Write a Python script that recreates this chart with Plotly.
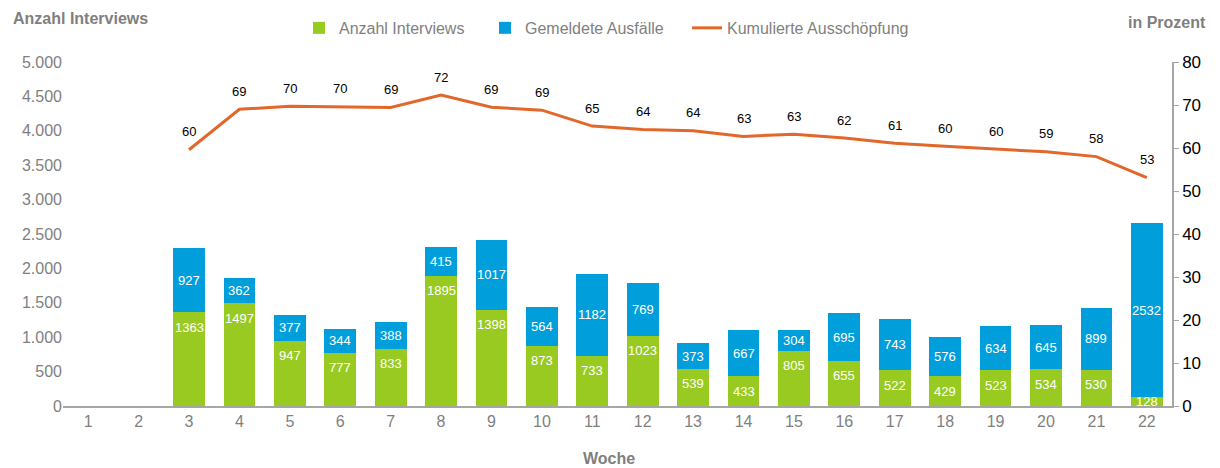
import plotly.graph_objects as go

weeks = list(range(1, 23))
interviews = [None, None, 1363, 1497, 947, 777, 833, 1895, 1398, 873, 733, 1023, 539, 433, 805, 655, 522, 429, 523, 534, 530, 128]
ausfaelle = [None, None, 927, 362, 377, 344, 388, 415, 1017, 564, 1182, 769, 373, 667, 304, 695, 743, 576, 634, 645, 899, 2532]
ausschoepfung = [None, None, 59.6, 69.0, 69.7, 69.6, 69.4, 72.3, 69.5, 68.8, 65.1, 64.3, 64.0, 62.7, 63.2, 62.3, 61.1, 60.4, 59.7, 59.1, 58.0, 53.1]
ausschoepfung_labels = ["", "", "60", "69", "70", "70", "69", "72", "69", "69", "65", "64", "64", "63", "63", "62", "61", "60", "60", "59", "58", "53"]
left_ticks = [0, 500, 1000, 1500, 2000, 2500, 3000, 3500, 4000, 4500, 5000]
left_ticktext = ["0", "500", "1.000", "1.500", "2.000", "2.500", "3.000", "3.500", "4.000", "4.500", "5.000"]

GREEN = "#99CA22"
BLUE = "#009FDC"
ORANGE = "#E2672B"
GREY = "#7F7F7F"
FONT = "Liberation Sans, Arial, sans-serif"

fig = go.Figure()
fig.add_trace(go.Bar(
    x=weeks, y=interviews, name="Anzahl Interviews", marker=dict(color=GREEN, line=dict(width=0)),
    width=0.63, legend="legend",
))
fig.add_trace(go.Bar(
    x=weeks, y=ausfaelle, name="Gemeldete Ausfälle", marker=dict(color=BLUE, line=dict(width=0)),
    width=0.63, legend="legend2",
))
fig.add_trace(go.Scatter(
    x=weeks, y=ausschoepfung, name="Kumulierte Ausschöpfung", mode="lines", yaxis="y2",
    line=dict(color=ORANGE, width=3), legend="legend3",
))

# data labels
for w, gi, bl, pc, lab in zip(weeks, interviews, ausfaelle, ausschoepfung, ausschoepfung_labels):
    if gi is not None:
        fig.add_annotation(x=w, y=max(gi, 290), yref="y", text=str(gi), showarrow=False,
                           yanchor="middle", yshift=-15,
                           font=dict(size=13, color="white", family=FONT))
    if bl is not None:
        fig.add_annotation(x=w, y=(gi or 0) + bl / 2, yref="y", text=str(bl), showarrow=False,
                           yanchor="middle", font=dict(size=13, color="white", family=FONT))
    if pc is not None:
        fig.add_annotation(x=w, y=pc, yref="y2", text=lab, showarrow=False,
                           yanchor="middle", yshift=18, font=dict(size=13, color="black", family=FONT))

legend_common = dict(orientation="h", y=1.099, yanchor="middle", xanchor="left",
                     font=dict(size=16, color=GREY, family=FONT), itemwidth=30,
                     bgcolor="rgba(0,0,0,0)")

fig.update_layout(
    width=1220, height=468, barmode="stack",
    margin=dict(l=63, r=48, t=62, b=62, autoexpand=False),
    plot_bgcolor="white", paper_bgcolor="white",
    font=dict(family=FONT, color=GREY, size=16),
    showlegend=True,
    legend=dict(x=0.2128, **legend_common),
    legend2=dict(x=0.3805, **legend_common),
    legend3=dict(x=0.5627, **legend_common),
    xaxis=dict(tickmode="array", tickvals=weeks, ticktext=[str(w) for w in weeks],
               range=[0.5, 22.5], showline=True, linecolor="#A6A6A6", linewidth=2,
               ticks="", showgrid=False, zeroline=False, tickfont=dict(size=16, color=GREY)),
    yaxis=dict(range=[0, 5000], tickvals=left_ticks, ticktext=left_ticktext, showgrid=False,
               zeroline=False, showline=False, ticks="", tickfont=dict(size=16, color=GREY)),
    yaxis2=dict(range=[0, 80], overlaying="y", side="right", tickvals=list(range(0, 90, 10)),
                showgrid=False, zeroline=False, showline=True, linecolor="#A6A6A6", linewidth=1.5,
                ticks="outside", ticklen=5, tickcolor="#A6A6A6", tickfont=dict(size=17, color="black")),
)

fig.add_annotation(text="<b>Anzahl Interviews</b>", xref="paper", yref="paper", x=-0.0465, y=1.0,
                   xanchor="left", yanchor="middle", yshift=44, showarrow=False,
                   font=dict(size=16, color=GREY, family=FONT))
fig.add_annotation(text="<b>in Prozent</b>", xref="paper", yref="paper", x=1.0325, y=1.0,
                   xanchor="right", yanchor="middle", yshift=40, showarrow=False,
                   font=dict(size=16, color=GREY, family=FONT))
fig.add_annotation(text="<b>Woche</b>", xref="paper", yref="paper", x=0.492, y=0,
                   xanchor="center", yanchor="middle", yshift=-52, showarrow=False,
                   font=dict(size=16, color=GREY, family=FONT))

fig.write_html("out.html", config={"displayModeBar": False},
               post_script="document.body.style.margin='0';")
